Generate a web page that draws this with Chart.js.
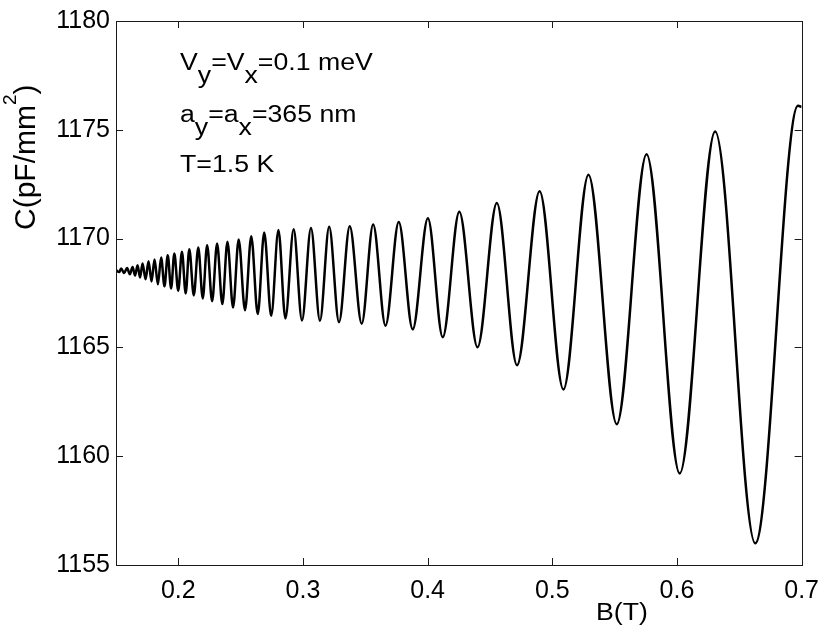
<!DOCTYPE html>
<html><head><meta charset="utf-8">
<script src="https://cdn.jsdelivr.net/npm/chart.js@4"></script>
<style>html,body{margin:0;padding:0;background:#fff}canvas{display:block}</style>
</head><body>
<canvas id="c" width="830" height="636"></canvas>
<script>
// Turning points of the C(B) trace (B in T, C in pF/mm^2)
const fieldB = [
  0.1500, 0.1526, 0.1541, 0.1565, 0.1589, 0.1611, 0.1633, 0.1653, 0.1673, 0.1693,
  0.1713, 0.1737, 0.1761, 0.1785, 0.1809, 0.1836, 0.1862, 0.1889, 0.1915, 0.1942,
  0.1968, 0.1999, 0.2029, 0.2059, 0.2088, 0.2124, 0.2160, 0.2196, 0.2231, 0.2271,
  0.2311, 0.2353, 0.2394, 0.2439, 0.2484, 0.2535, 0.2585, 0.2637, 0.2689, 0.2745,
  0.2803, 0.2859, 0.2925, 0.2992, 0.3064, 0.3136, 0.3210, 0.3289, 0.3375, 0.3471,
  0.3563, 0.3662, 0.3768, 0.3880, 0.4002, 0.4121, 0.4254, 0.4400, 0.4555, 0.4717,
  0.4898, 0.5089, 0.5290, 0.5517, 0.5756, 0.6022, 0.6306, 0.6628, 0.6971, 0.7000
];
const capacitance = [
  1168.55, 1168.46, 1168.63, 1168.42, 1168.65, 1168.36, 1168.70, 1168.30, 1168.78, 1168.21,
  1168.86, 1168.13, 1168.96, 1168.03, 1169.04, 1167.90, 1169.13, 1167.81, 1169.24, 1167.71,
  1169.32, 1167.60, 1169.39, 1167.48, 1169.51, 1167.39, 1169.59, 1167.25, 1169.70, 1167.12,
  1169.77, 1166.99, 1169.85, 1166.83, 1169.96, 1166.71, 1170.11, 1166.53, 1170.28, 1166.45,
  1170.39, 1166.33, 1170.43, 1166.24, 1170.49, 1166.23, 1170.54, 1166.16, 1170.57, 1166.09,
  1170.65, 1166.00, 1170.76, 1165.83, 1170.93, 1165.47, 1171.23, 1165.01, 1171.64, 1164.18,
  1172.18, 1163.07, 1172.94, 1161.47, 1173.88, 1159.21, 1174.92, 1156.00, 1176.10, 1176.05
];
const xTicks = [0.2, 0.3, 0.4, 0.5, 0.6, 0.7];
const yTicks = [1155, 1160, 1165, 1170, 1175, 1180];
const xTitle = 'B(T)';
const yTitleParts = [['C(pF/mm', 0], ['2', 1], [')', 0]];   // 1 = superscript
// annotation lines: [text, isSubscript]
const noteLines = [
  [['V', 0], ['y', 1], ['=V', 0], ['x', 1], ['=0.1 meV', 0]],
  [['a', 0], ['y', 1], ['=a', 0], ['x', 1], ['=365 nm', 0]],
  [['T=1.5 K', 0]]
];

const FONT = '"Liberation Sans", Arial, Helvetica, sans-serif';
const INK = '#000';
const STRETCH = 1.16;

function drawStretched(ctx, parts, x0, base, size, subDy) {
  ctx.save();
  ctx.translate(x0, base);
  ctx.scale(STRETCH, 1);
  ctx.font = size + 'px ' + FONT;
  let x = 0;
  parts.forEach(([t, sub]) => {
    ctx.fillText(t, x, sub ? subDy : 0);
    x += ctx.measureText(t).width;
  });
  ctx.restore();
}

const framePlugin = {
  id: 'frame',
  afterDraw(chart) {
    const ctx = chart.ctx, a = chart.chartArea;
    const xs = chart.scales.x, ys = chart.scales.y;
    ctx.save();
    ctx.strokeStyle = '#1a1a1a';
    ctx.lineWidth = 1;
    ctx.strokeRect(Math.round(a.left) + 0.5, Math.round(a.top) + 0.5,
                   Math.round(a.right - a.left), Math.round(a.bottom - a.top));
    const tl = 7;
    ctx.beginPath();
    xTicks.forEach(v => {
      const px = Math.round(xs.getPixelForValue(v)) + 0.5;
      ctx.moveTo(px, a.bottom); ctx.lineTo(px, a.bottom - tl);
      ctx.moveTo(px, a.top); ctx.lineTo(px, a.top + tl);
    });
    yTicks.forEach(v => {
      const py = Math.round(ys.getPixelForValue(v)) + 0.5;
      ctx.moveTo(a.left, py); ctx.lineTo(a.left + tl, py);
      ctx.moveTo(a.right, py); ctx.lineTo(a.right - tl, py);
    });
    ctx.stroke();

    ctx.fillStyle = INK;
    ctx.textBaseline = 'alphabetic';
    ctx.textAlign = 'left';
    const baselines = [70, 122, 172];
    noteLines.forEach((line, i) => drawStretched(ctx, line, 180, baselines[i], 23, 13));

    // x-axis title
    ctx.font = '23px ' + FONT;
    const w = ctx.measureText(xTitle).width * STRETCH;
    drawStretched(ctx, [[xTitle, 0]], 622 - w / 2, 620, 23, 0);

    // y-axis title (rotated, with superscript)
    ctx.save();
    ctx.translate(35, 230);
    ctx.rotate(-Math.PI / 2);
    let x = 0;
    yTitleParts.forEach(([t, sup]) => {
      ctx.font = (sup ? '19px ' : '30px ') + FONT;
      ctx.fillText(t, x, sup ? -19 : 0);
      x += ctx.measureText(t).width;
    });
    ctx.restore();
    ctx.restore();
  }
};

new Chart(document.getElementById('c'), {
  type: 'line',
  data: {
    datasets: [{
      data: fieldB.map((b, i) => ({ x: b, y: capacitance[i] })),
      borderColor: INK,
      borderWidth: 2.5,
      pointRadius: 0,
      fill: false,
      cubicInterpolationMode: 'monotone'
    }]
  },
  options: {
    responsive: false,
    animation: false,
    devicePixelRatio: 1,
    layout: { padding: { top: 21, right: 24, left: 0, bottom: 0 } },
    plugins: { legend: { display: false }, tooltip: { enabled: false } },
    scales: {
      x: {
        type: 'linear', min: 0.15, max: 0.7,
        grid: { display: false, drawTicks: false },
        border: { display: false },
        afterBuildTicks: s => { s.ticks = xTicks.map(v => ({ value: v })); },
        afterFit: s => { s.height = 71; },
        ticks: {
          color: INK, padding: 11, maxRotation: 0, autoSkip: false,
          font: { family: FONT, size: 25 },
          callback: v => Number(v).toFixed(1)
        }
      },
      y: {
        type: 'linear', min: 1155, max: 1180,
        grid: { display: false, drawTicks: false },
        border: { display: false },
        afterBuildTicks: s => { s.ticks = yTicks.map(v => ({ value: v })); },
        afterFit: s => { s.width = 116; },
        ticks: {
          color: INK, padding: 6, autoSkip: false,
          font: { family: FONT, size: 25 },
          callback: v => String(Math.round(v))
        }
      }
    }
  },
  plugins: [framePlugin]
});
</script>
</body></html>
